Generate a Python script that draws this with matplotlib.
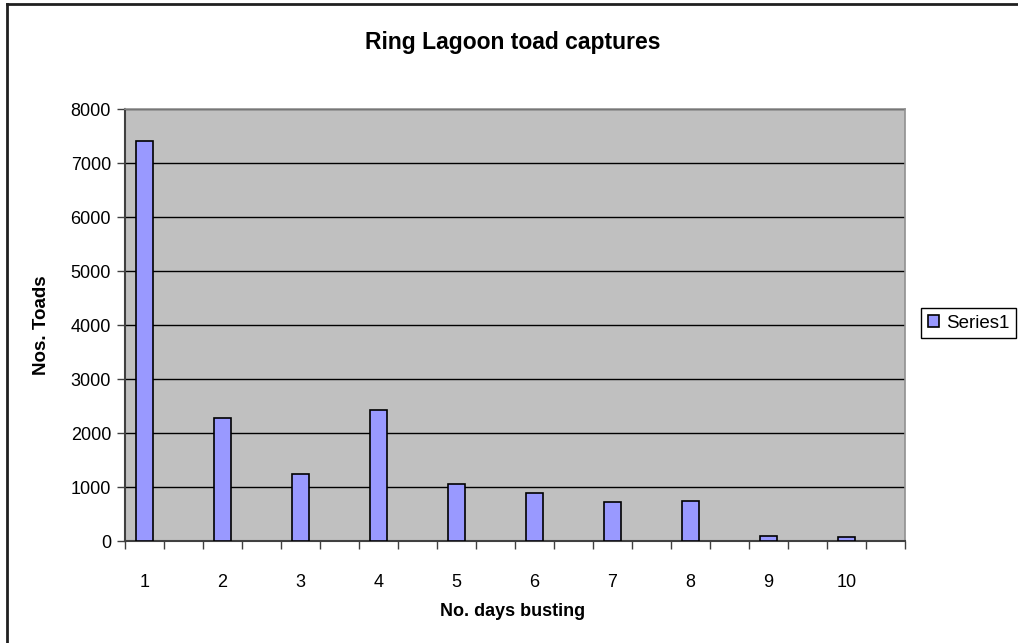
import matplotlib.pyplot as plt
from matplotlib.lines import Line2D

plt.rcParams['font.family'] = ['Liberation Sans', 'DejaVu Sans']

# data
days = [1, 2, 3, 4, 5, 6, 7, 8, 9, 10]
toads = [7400, 2280, 1240, 2420, 1060, 890, 720, 750, 100, 70]
series_name = "Series1"

W, H = 1018, 643
fig = plt.figure(figsize=(W / 100, H / 100), dpi=100)
ax = fig.add_axes([125 / W, 1 - 541 / H, 780 / W, 432 / H])

ax.set_facecolor("#C0C0C0")
bars = ax.bar(days, toads, width=0.21, color="#9999FF", edgecolor="black",
              linewidth=1.2, label=series_name, zorder=3)

ax.set_xlim(0.75, 10.75)
ax.set_ylim(0, 8000)
ax.set_yticks(range(0, 8001, 1000))
ax.yaxis.grid(True, color="black", linewidth=1, zorder=1)

# labels at the bar centres, tick marks between categories
ax.set_xticks(days)
ax.set_xticklabels([str(d) for d in days])
ax.set_xticks([0.75 + 0.5 * k for k in range(21)], minor=True)
ax.tick_params(axis="x", which="major", length=0, pad=24, labelsize=13)
ax.tick_params(axis="x", which="minor", length=6, width=1, color="#404040")
ax.tick_params(axis="y", length=6, width=1, pad=4, labelsize=13, color="#404040")

for side in ["left", "bottom"]:
    ax.spines[side].set_color("#404040")
    ax.spines[side].set_linewidth(1.5)
for side in ["top", "right"]:
    ax.spines[side].set_color("#909090")
    ax.spines[side].set_linewidth(1.2)

fig.text(513 / W, 1 - 42 / H, "Ring Lagoon toad captures", ha="center",
         va="center", fontsize=16.5, fontweight="bold")
fig.text(513 / W, 1 - 612 / H, "No. days busting", ha="center", va="center",
         fontsize=13, fontweight="bold")
fig.text(42 / W, 1 - 325 / H, "Nos. Toads", ha="center", va="center",
         rotation=90, fontsize=13.5, fontweight="bold")

leg = fig.legend(handles=[bars], loc="upper left",
                 bbox_to_anchor=(921 / W, 1 - 308 / H), fancybox=False,
                 framealpha=1, edgecolor="black", fontsize=13.5,
                 handlelength=0.6, handleheight=0.6, handletextpad=0.4,
                 borderpad=0.35, borderaxespad=0)
leg.get_frame().set_linewidth(1)

# chart border (only the left and top edges show in the cropped original)
fig.add_artist(Line2D([7 / W, 7 / W], [0, 1 - 4 / H], color="#202020", linewidth=2))
fig.add_artist(Line2D([7 / W, 1], [1 - 4 / H, 1 - 4 / H], color="#202020", linewidth=2))

fig.savefig("out.png", dpi=100)
